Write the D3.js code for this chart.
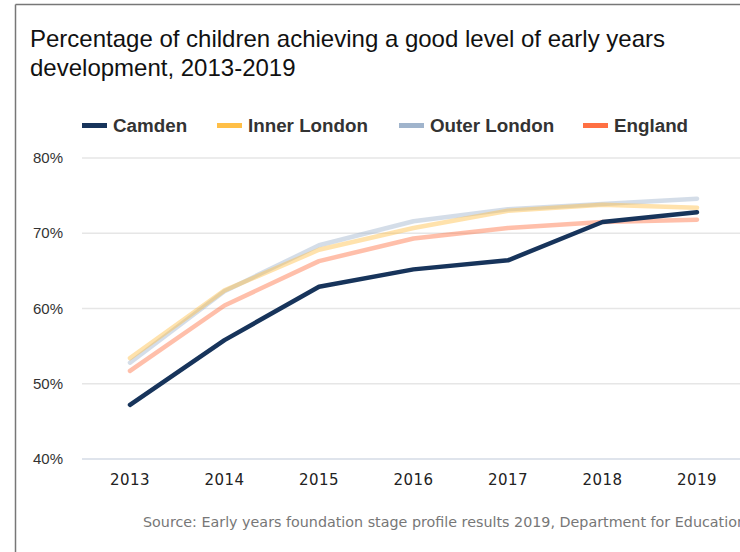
<!DOCTYPE html>
<html><head><meta charset="utf-8">
<script src="https://cdn.jsdelivr.net/npm/d3@7"></script>
<style>body{margin:0;background:#fff}svg{display:block}</style>
</head><body>
<script>
const years = [2013, 2014, 2015, 2016, 2017, 2018, 2019];
const camden = [47.2, 55.8, 62.9, 65.2, 66.4, 71.5, 72.8];
const innerLondon = [53.4, 62.4, 67.8, 70.7, 73.0, 73.8, 73.4];
const outerLondon = [52.8, 62.3, 68.4, 71.6, 73.2, 73.9, 74.6];
const england = [51.7, 60.4, 66.3, 69.3, 70.7, 71.5, 71.8];
const yTicks = [40, 50, 60, 70, 80];
const seriesNames = ["Camden", "Inner London", "Outer London", "England"];

const W = 740, H = 552;
const svg = d3.select("body").append("svg").attr("width", W).attr("height", H);

// frame
svg.append("line").attr("x1", 15.5).attr("x2", W).attr("y1", 4.5).attr("y2", 4.5).attr("stroke", "#777").attr("stroke-width", 1.5);
svg.append("line").attr("x1", 15.5).attr("x2", 15.5).attr("y1", 4.5).attr("y2", H).attr("stroke", "#777").attr("stroke-width", 1.5);

// title
const title = svg.append("text").attr("x", 30).attr("font-family", "Liberation Sans, Arial, sans-serif").attr("font-size", 24).attr("fill", "#111");
title.append("tspan").attr("x", 30).attr("y", 47).text("Percentage of children achieving a good level of early years");
title.append("tspan").attr("x", 30).attr("y", 76).text("development, 2013-2019");

const x = d3.scalePoint().domain(years).range([130, 697]);
const y = d3.scaleLinear().domain([40, 80]).range([459, 158]);

// gridlines
svg.append("g").selectAll("line").data(yTicks).join("line")
  .attr("x1", 82).attr("x2", W).attr("y1", d => y(d)).attr("y2", d => y(d))
  .attr("stroke", d => d === 40 ? "#d5dbe6" : "#e6e6e6").attr("stroke-width", 1.5);

// y labels
svg.append("g").selectAll("text").data(yTicks).join("text")
  .attr("x", 63).attr("y", d => y(d) + 5).attr("text-anchor", "end")
  .attr("font-family", "Liberation Sans, Arial, sans-serif").attr("font-size", 15).attr("fill", "#333")
  .text(d => d + "%");

// x labels
svg.append("g").selectAll("text").data(years).join("text")
  .attr("x", d => x(d)).attr("y", 485).attr("text-anchor", "middle")
  .attr("font-family", "DejaVu Sans, sans-serif").attr("font-size", 15).attr("letter-spacing", 0.5).attr("fill", "#222")
  .text(d => d);

const series = [
  {name: seriesNames[3], vals: england, color: "#ff7043", op: 0.45},
  {name: seriesNames[2], vals: outerLondon, color: "#a0b4cc", op: 0.45},
  {name: seriesNames[1], vals: innerLondon, color: "#ffbf47", op: 0.45},
  {name: seriesNames[0], vals: camden, color: "#17345b", op: 1}
];
const line = d3.line().x((d, i) => x(years[i])).y(d => y(d));
svg.append("g").selectAll("path").data(series).join("path")
  .attr("d", d => line(d.vals)).attr("fill", "none")
  .attr("stroke", d => d.color).attr("stroke-opacity", d => d.op)
  .attr("stroke-width", 4.5).attr("stroke-linejoin", "round").attr("stroke-linecap", "round");

// legend
const legend = [
  {name: seriesNames[0], color: "#17345b", x: 82},
  {name: seriesNames[1], color: "#ffbf47", x: 217},
  {name: seriesNames[2], color: "#a0b4cc", x: 399},
  {name: seriesNames[3], color: "#ff7043", x: 583}
];
const lg = svg.append("g").selectAll("g").data(legend).join("g");
lg.append("rect").attr("x", d => d.x).attr("y", 123).attr("width", 25).attr("height", 5).attr("fill", d => d.color);
lg.append("text").attr("x", d => d.x + 31).attr("y", 132)
  .attr("font-family", "Liberation Sans, Arial, sans-serif").attr("font-weight", "bold").attr("font-size", 18.8).attr("fill", "#333")
  .text(d => d.name);

// source
svg.append("text").attr("x", 143).attr("y", 527)
  .attr("font-family", "DejaVu Sans, sans-serif").attr("font-size", 14.3).attr("fill", "#777")
  .text("Source: Early years foundation stage profile results 2019, Department for Education");
</script>
</body></html>
